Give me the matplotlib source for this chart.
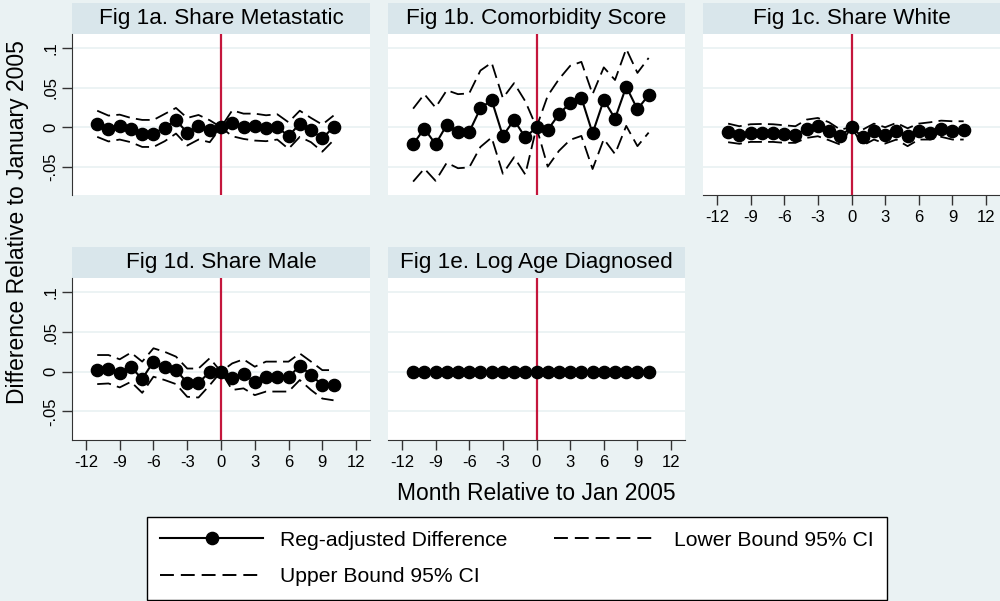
import numpy as np
import matplotlib.pyplot as plt
from matplotlib.lines import Line2D

plt.rcParams['font.family'] = ['Liberation Sans', 'DejaVu Sans']
plt.rcParams['lines.scale_dashes'] = False

months = list(range(-11, 11))

# Fig 1a. Share Metastatic
meta_diff = [0.0047, -0.0017, 0.0013, -0.0025, -0.0080, -0.0080, -0.0004, 0.0089, -0.0068, 0.0013, -0.0038,
             0.0, 0.0055, 0.0004, 0.0013, -0.0013, 0.0004, -0.0114, 0.0047, -0.0038, -0.0140, 0.0]
meta_upper = [0.0210, 0.0148, 0.0160, 0.0118, 0.0093, 0.0093, 0.0169, 0.0245, 0.0118, 0.0156, 0.0089,
              0.0, 0.0215, 0.0173, 0.0173, 0.0152, 0.0165, 0.0063, 0.0210, 0.0118, 0.0034, 0.0148]
meta_lower = [-0.0122, -0.0180, -0.0156, -0.0190, -0.0250, -0.0250, -0.0177, -0.0080, -0.0232, -0.0156, -0.0190,
              0.0, -0.0114, -0.0148, -0.0169, -0.0177, -0.0156, -0.0274, -0.0122, -0.0190, -0.0310, -0.0165]

# Fig 1b. Comorbidity Score
comorb_diff = [-0.0215, -0.0017, -0.0215, 0.0030, -0.0060, -0.0060, 0.0240, 0.0346, -0.0110, 0.0093, -0.0130,
               0.0, -0.0034, 0.0165, 0.0310, 0.0375, -0.0076, 0.0346, 0.0110, 0.0515, 0.0228, 0.0410]
comorb_upper = [0.0236, 0.0420, 0.0250, 0.0470, 0.0420, 0.0430, 0.0720, 0.0820, 0.0370, 0.0560, 0.0330,
                0.0, 0.0400, 0.0610, 0.0780, 0.0830, 0.0420, 0.0760, 0.0600, 0.0995, 0.0690, 0.0880]
comorb_lower = [-0.0690, -0.0525, -0.0680, -0.0450, -0.0520, -0.0510, -0.0250, -0.0130, -0.0590, -0.0380, -0.0600,
                0.0, -0.0500, -0.0300, -0.0160, -0.0110, -0.0530, -0.0150, -0.0340, 0.0017, -0.0240, -0.0068]

# Fig 1c. Share White
white_diff = [-0.0063, -0.0097, -0.0076, -0.0072, -0.0072, -0.0084, -0.0097, -0.0017, 0.0013, -0.0050, -0.0114,
              0.0, -0.0127, -0.0042, -0.0097, -0.0042, -0.0114, -0.0042, -0.0072, -0.0017, -0.0050, -0.0030]
white_upper = [0.0046, 0.0013, 0.0038, 0.0042, 0.0038, 0.0025, 0.0013, 0.0097, 0.0118, 0.0063, -0.0030,
               0.0, -0.0030, 0.0046, 0.0000, 0.0055, -0.0013, 0.0046, 0.0063, 0.0084, 0.0076, 0.0076]
white_lower = [-0.0190, -0.0210, -0.0186, -0.0186, -0.0186, -0.0198, -0.0198, -0.0135, -0.0114, -0.0165, -0.0220,
               0.0, -0.0232, -0.0156, -0.0207, -0.0156, -0.0240, -0.0156, -0.0156, -0.0122, -0.0156, -0.0156]

# Fig 1d. Share Male
male_diff = [0.0021, 0.0038, -0.0021, 0.0055, -0.0089, 0.0127, 0.0063, 0.0021, -0.0140, -0.0140, -0.0004,
             0.0, -0.0076, -0.0030, -0.0127, -0.0068, -0.0063, -0.0072, 0.0076, -0.0042, -0.0169, -0.0169]
male_upper = [0.0210, 0.0210, 0.0156, 0.0240, 0.0127, 0.0295, 0.0250, 0.0190, 0.0040, 0.0040, 0.0170,
              0.0, 0.0105, 0.0156, 0.0063, 0.0127, 0.0127, 0.0127, 0.0230, 0.0127, 0.0020, 0.0020]
male_lower = [-0.0156, -0.0148, -0.0198, -0.0127, -0.0266, -0.0063, -0.0105, -0.0156, -0.0316, -0.0325, -0.0169,
              0.0, -0.0230, -0.0210, -0.0295, -0.0250, -0.0250, -0.0250, -0.0105, -0.0230, -0.0338, -0.0360]

# Fig 1e. Log Age Diagnosed
age_diff = [0.0] * 22
age_upper = [0.0] * 22
age_lower = [0.0] * 22

titles = ['Fig 1a. Share Metastatic', 'Fig 1b. Comorbidity Score', 'Fig 1c. Share White',
          'Fig 1d. Share Male', 'Fig 1e. Log Age Diagnosed']
series = [(meta_diff, meta_lower, meta_upper), (comorb_diff, comorb_lower, comorb_upper),
          (white_diff, white_lower, white_upper), (male_diff, male_lower, male_upper),
          (age_diff, age_lower, age_upper)]
yticks = [-0.05, 0, 0.05, 0.1]
ytick_labels = ['-.05', '0', '.05', '.1']
xticks = list(range(-12, 13, 3))

bg = '#EAF2F3'
strip = '#D9E6EB'
red = '#C4163C'
dash = (0, (10, 4.5))

W, H = 1000, 601
f = plt.figure(figsize=(10, 6.01), dpi=100, facecolor=bg)

cols = [(72, 370), (388, 685), (703, 1000)]
rows = [(34.3, 195, 3.3), (278, 440, 247)]  # plot top, plot bottom, strip top

def rect(x0, x1, ytop, ybot):
    return [x0 / W, 1 - ybot / H, (x1 - x0) / W, (ybot - ytop) / H]

for i in range(5):
    r, c = divmod(i, 3)
    x0, x1 = cols[c]
    ytop, ybot, stop = rows[r]

    # title band above each panel
    sax = f.add_axes(rect(x0, x1, stop, ytop))
    sax.set_facecolor(strip)
    sax.set_xticks([])
    sax.set_yticks([])
    for s in sax.spines.values():
        s.set_visible(False)
    sax.text(0.5, 0.5, titles[i], ha='center', va='center', fontsize=16.2, transform=sax.transAxes)

    ax = f.add_axes(rect(x0, x1, ytop, ybot))
    ax.set_facecolor('white')
    d, lo, up = series[i]
    for y in yticks:
        ax.axhline(y, color=bg, lw=1.3, zorder=0)
    ax.axvline(0, color=red, lw=1.6, zorder=1)
    ax.plot(months, up, color='black', lw=1.3, linestyle=dash, zorder=2)
    ax.plot(months, lo, color='black', lw=1.3, linestyle=dash, zorder=2)
    ax.plot(months, d, color='black', lw=1.5, marker='o', ms=8.8, zorder=3)
    ax.set_xlim(-13.24, 13.24)
    ax.set_ylim(-0.086, 0.118)

    for s in ['top', 'right']:
        ax.spines[s].set_visible(False)
    ax.spines['left'].set_visible(c == 0)
    bottom = (r == 1) or (c == 2)
    ax.spines['bottom'].set_visible(bottom)
    ax.spines['left'].set_color('#333333')
    ax.spines['bottom'].set_color('#333333')

    ax.set_yticks(yticks)
    if c == 0:
        ax.set_yticklabels(ytick_labels, rotation=90, va='center', fontsize=12)
        ax.tick_params(axis='y', length=7, width=1, color='#333333', pad=3)
    else:
        ax.tick_params(axis='y', left=False, labelleft=False)
    ax.set_xticks(xticks)
    if bottom:
        ax.set_xticklabels([str(t) for t in xticks], fontsize=12)
        ax.tick_params(axis='x', length=7, width=1, color='#333333', pad=4)
    else:
        ax.tick_params(axis='x', bottom=False, labelbottom=False)

f.text(18 / W, 1 - 222 / H, 'Difference Relative to January 2005', rotation=90,
       ha='center', va='center', fontsize=16.5)
f.text(536.5 / W, 1 - 493 / H, 'Month Relative to Jan 2005', ha='center', va='center', fontsize=16.5)

handles = [Line2D([], [], color='black', lw=1.5, marker='o', ms=8.8),
           Line2D([], [], color='black', lw=1.4, linestyle=(0, (10, 5))),
           Line2D([], [], color='black', lw=1.4, linestyle=(0, (10, 5)))]
labels = ['Reg-adjusted Difference', 'Upper Bound 95% CI', 'Lower Bound 95% CI']
leg = f.legend(handles, labels, ncol=2, loc='center', bbox_to_anchor=(517 / W, 1 - 558.5 / H),
               fontsize=15.2, frameon=True, fancybox=False, edgecolor='black', facecolor='white',
               framealpha=1, handlelength=4.9, handletextpad=0.8, columnspacing=2.2,
               labelspacing=0.85, borderpad=0.62)
leg.get_frame().set_linewidth(1)

plt.savefig('out.png', dpi=100, facecolor=bg)
